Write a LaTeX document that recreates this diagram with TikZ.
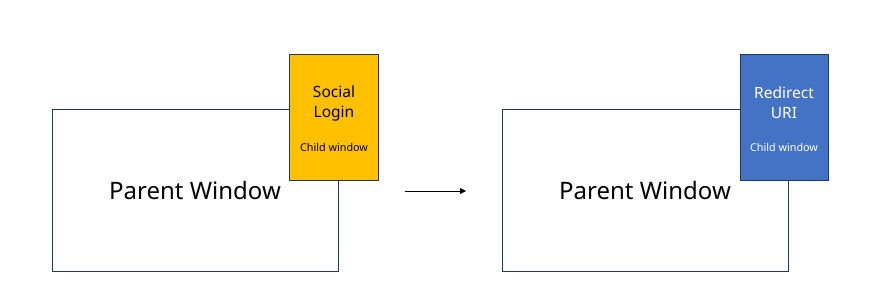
\documentclass[tikz,border=0pt]{standalone}
\usepackage{fontspec}
\setmainfont{Noto Sans}
\usetikzlibrary{arrows.meta}
\definecolor{navy}{HTML}{1F3864}
\definecolor{gold}{HTML}{FFC000}
\definecolor{blu}{HTML}{4472C4}
\tikzset{
  parentbox/.style={draw=navy, line width=1pt, fill=white},
  childbox/.style={draw=navy, line width=1pt},
  bigtext/.style={font=\fontsize{24}{28}\selectfont},
  midtext/.style={font=\fontsize{15.5}{20}\selectfont, align=center},
  smalltext/.style={font=\fontsize{10.8}{13}\selectfont},
}
\begin{document}
\begin{tikzpicture}[x=1pt,y=-1pt]
\useasboundingbox (0,0) rectangle (869,304);
% left
\draw[parentbox] (52,110) rectangle (338,271);
\node[bigtext] (p1) at (195,191) {Parent Window};
\draw[childbox, fill=gold] (289.5,54.5) rectangle (378.5,181);
\node[midtext, text=black] (c1) at (334,103) {Social\\Login};
\node[smalltext, text=black] (s1) at (334,147) {Child window};
% arrow
\coordinate (a1) at (405,191);
\coordinate (a2) at (466,191);
\draw[line width=0.9pt, -{Triangle[length=6pt,width=6pt]}] (a1) -- (a2);
% right
\draw[parentbox] (502,110) rectangle (788,271);
\node[bigtext] (p2) at (645,191) {Parent Window};
\draw[childbox, fill=blu] (740,54.5) rectangle (828.5,181);
\node[midtext, text=white] (c2) at (784,103) {Redirect\\URI};
\node[smalltext, text=white] (s2) at (784,147) {Child window};
\end{tikzpicture}
\end{document}
